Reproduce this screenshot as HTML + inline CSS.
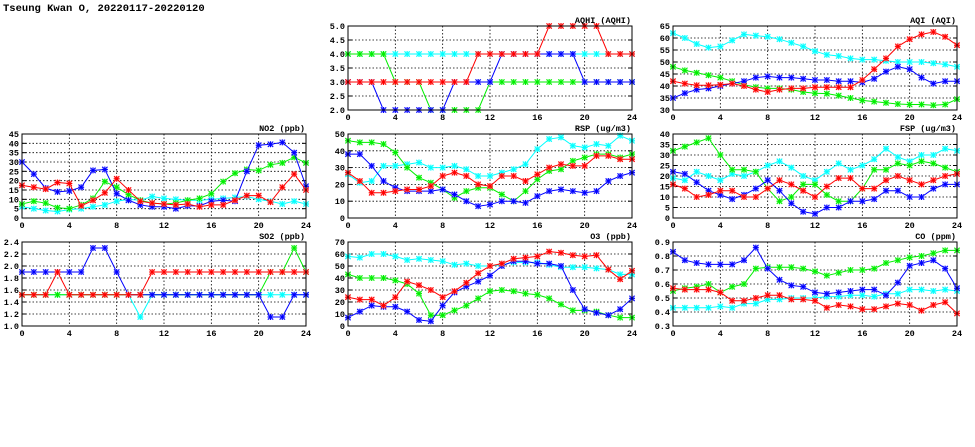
<!DOCTYPE html>
<html><head><meta charset="utf-8"><style>
html,body{margin:0;padding:0;background:#fff;width:975px;height:447px;overflow:hidden}
svg{display:block}
text{font-family:"Liberation Mono",monospace;font-weight:bold;fill:#000}
</style></head><body>
<svg id="chart" width="975" height="447" viewBox="0 0 975 447" xmlns="http://www.w3.org/2000/svg">
<text x="3" y="11" font-size="10.5" font-family="Liberation Serif">Tseung Kwan O, 20220117-20220120</text>
</svg>
<script>
const xTicks = [0,4,8,12,16,20,24];
const seriesColors = ['#00ffff','#00ee00','#0000ff','#ff0000'];
const aqhiCyan=[4,4,4,4,4,4,4,4,4,4,4,4,4,4,4,4,4,4,4,4,4,4,4,4,4];
const aqhiGreen=[4,4,4,4,3,3,3,2,2,2,2,2,3,3,3,3,3,3,3,3,3,3,3,3,3];
const aqhiBlue=[3,3,3,2,2,2,2,2,2,3,3,3,3,4,4,4,4,4,4,4,3,3,3,3,3];
const aqhiRed=[3,3,3,3,3,3,3,3,3,3,3,4,4,4,4,4,4,5,5,5,5,5,4,4,4];
const aqiCyan=[62,60,57.5,56,56.5,59,61.5,61,60.5,59.5,58,56.5,54.5,53,52.5,51.5,51,51,50.5,50,50,50,49.5,49,48];
const aqiGreen=[48,46.5,45.5,44.5,43.5,42,40.5,39.5,39,39,38.5,37.5,37,36.8,36,35,34,33.5,33,32.5,32.3,32.3,32,32.3,34.5];
const aqiBlue=[35,37,38.5,39,40,41,42,43.5,44,43.5,43.5,43,42.5,42.5,42,42,41.5,43,46,48,47,43.5,41,42,42];
const aqiRed=[42,41,40.3,40.3,40.5,41,40,38.5,37.5,38.5,39,39,39.5,39.5,39.5,39.5,42.5,47,51.5,56.5,59.5,61.5,62.5,60.5,57];
const no2Cyan=[6,5,4,3.5,4.5,5,6,7,9,10,9.5,11.5,10.5,10,9.5,9.5,10,10.5,11,11.5,10,9,7.5,9,7.5];
const no2Green=[7.5,9,8,5.5,5,7,10.5,19.5,16.5,12.5,9.5,8,7.5,8,9.5,10.5,13,19.5,24,26,25.5,28.5,29.5,32.5,29.5];
const no2Blue=[30,23.5,16,14,14.5,16.5,25.5,26,13,9.5,7,6,6,5,6.5,6.5,9,9.5,9,25,39,39.5,40.5,35,17];
const no2Red=[17.5,16.5,15.5,19,18.5,6.5,9.5,13.5,21,15,9,8,7.5,7,7.5,6,7,7,9.5,12,12,8.5,16.5,23.5,15];
const rspCyan=[26,21,22,31,31,32,33,30,30,31,29,25,25,27,29,32,41,47,48,43,42,44,43,49,46];
const rspGreen=[46,45,45,44,39,30,24,21,17,12,16,18,18,14,10,16,23,28,29,34,36,38,38,36,38];
const rspBlue=[38,38,31,22,18,16,16,16,17,14,10,7,8,10,10,9,13,16,17,16,15,16,22,25,27];
const rspRed=[27,22,15,15,16,17,17,19,25,27,25,20,19,25,25,22,26,30,32,31,31,37,37,35,35];
const fspCyan=[19,18,22,20,18,21,20,22,25,27,24,20,18,22,26,23,25,28,33,29,27,30,30,33,32];
const fspGreen=[32,34,36,38,30,23,23,22,14,8,10,16,16,11,8,8,14,23,23,26,25,27,26,24,22];
const fspBlue=[22,21,17,13,11,9,11,14,18,13,7,3,2,5,5,8,8,9,13,13,10,10,14,16,16];
const fspRed=[16,14,10,11,13,13,10,10,14,18,16,13,10,15,19,19,14,14,18,20,18,16,18,20,21];
const so2Cyan=[1.52,1.52,1.52,1.52,1.52,1.52,1.52,1.52,1.52,1.52,1.15,1.52,1.52,1.52,1.52,1.52,1.52,1.52,1.52,1.52,1.52,1.52,1.52,1.52,1.52];
const so2Green=[1.52,1.52,1.52,1.52,1.52,1.52,1.52,1.52,1.52,1.52,1.52,1.52,1.52,1.52,1.52,1.52,1.52,1.52,1.52,1.52,1.52,1.9,1.9,2.3,1.9];
const so2Blue=[1.9,1.9,1.9,1.9,1.9,1.9,2.3,2.3,1.9,1.52,1.52,1.52,1.52,1.52,1.52,1.52,1.52,1.52,1.52,1.52,1.52,1.15,1.15,1.52,1.52];
const so2Red=[1.52,1.52,1.52,1.9,1.52,1.52,1.52,1.52,1.52,1.52,1.52,1.9,1.9,1.9,1.9,1.9,1.9,1.9,1.9,1.9,1.9,1.9,1.9,1.9,1.9];
const o3Cyan=[58,57,60,60,58,55,56,55,54,51,52,50,50,51,53,53,53,51,49,49,49,48,47,43,43];
const o3Green=[43,40,40,40,38,35,27,9,9,13,17,23,29,30,29,27,26,23,18,13,13,12,9,7,7];
const o3Blue=[7,12,17,16,16,12,5,4,17,28,33,37,42,50,54,54,52,52,50,30,14,11,9,14,23];
const o3Red=[24,22,22,17,24,37,34,30,24,29,36,44,50,52,56,57,58,62,61,59,58,59,47,39,46];
const coCyan=[.43,.43,.43,.43,.44,.43,.46,.46,.49,.49,.50,.50,.50,.51,.51,.52,.52,.51,.53,.53,.56,.56,.55,.56,.55];
const coGreen=[.55,.57,.58,.60,.54,.58,.60,.71,.72,.72,.72,.71,.69,.66,.68,.70,.70,.71,.75,.77,.79,.80,.82,.84,.84];
const coBlue=[.83,.77,.75,.74,.74,.74,.77,.86,.71,.63,.59,.58,.54,.53,.54,.55,.56,.56,.52,.61,.73,.75,.77,.71,.57];
const coRed=[.57,.56,.56,.56,.54,.48,.48,.50,.52,.52,.49,.49,.48,.43,.45,.44,.42,.42,.44,.46,.45,.41,.45,.47,.39];
const aqhiTicks=['2.0','2.5','3.0','3.5','4.0','4.5','5.0'];
const aqiTicks=['30','35','40','45','50','55','60','65'];
const no2Ticks=['0','5','10','15','20','25','30','35','40','45'];
const rspTicks=['0','10','20','30','40','50'];
const fspTicks=['0','5','10','15','20','25','30','35','40'];
const so2Ticks=['1.0','1.2','1.4','1.6','1.8','2.0','2.2','2.4'];
const o3Ticks=['0','10','20','30','40','50','60','70'];
const coTicks=['0.3','0.4','0.5','0.6','0.7','0.8','0.9'];

const panels=[
 {name:'aqhi',title:'AQHI (AQHI)',L:348,T:26,ticks:aqhiTicks,series:[aqhiCyan,aqhiGreen,aqhiBlue,aqhiRed]},
 {name:'aqi',title:'AQI (AQI)',L:673,T:26,ticks:aqiTicks,series:[aqiCyan,aqiGreen,aqiBlue,aqiRed]},
 {name:'no2',title:'NO2 (ppb)',L:22,T:134,ticks:no2Ticks,series:[no2Cyan,no2Green,no2Blue,no2Red]},
 {name:'rsp',title:'RSP (ug/m3)',L:348,T:134,ticks:rspTicks,series:[rspCyan,rspGreen,rspBlue,rspRed]},
 {name:'fsp',title:'FSP (ug/m3)',L:673,T:134,ticks:fspTicks,series:[fspCyan,fspGreen,fspBlue,fspRed]},
 {name:'so2',title:'SO2 (ppb)',L:22,T:242,ticks:so2Ticks,series:[so2Cyan,so2Green,so2Blue,so2Red]},
 {name:'o3',title:'O3 (ppb)',L:348,T:242,ticks:o3Ticks,series:[o3Cyan,o3Green,o3Blue,o3Red]},
 {name:'co',title:'CO (ppm)',L:673,T:242,ticks:coTicks,series:[coCyan,coGreen,coBlue,coRed]}
];
const W=284,H=84,NS='http://www.w3.org/2000/svg';
const svg=document.getElementById('chart');
function mk(tag,attrs,parent){const e=document.createElementNS(NS,tag);for(const k in attrs)e.setAttribute(k,attrs[k]);parent.appendChild(e);return e;}
const lightColors=['#aaffff','#aaffaa','#aaaaff','#ffaaaa'];
panels.forEach(p=>{
 const g=mk('g',{},svg);
 
 
 const ymin=parseFloat(p.ticks[0]),ymax=parseFloat(p.ticks[p.ticks.length-1]);
 const xs=v=>p.L+v/24*W;
 const ys=v=>p.T+H-(v-ymin)/(ymax-ymin)*H;
 p.ticks.forEach((t,i)=>{
  const y=ys(parseFloat(t));
  if(i>0&&i<p.ticks.length-1){const gl=mk('line',{x1:p.L,x2:p.L+W,y1:y,y2:y,stroke:'#000','stroke-width':0.8,'stroke-dasharray':'1.5,2'},g);
   }
  mk('line',{x1:p.L,x2:p.L+4,y1:y,y2:y,stroke:'#000'},g);
  mk('line',{x1:p.L+W-4,x2:p.L+W,y1:y,y2:y,stroke:'#000'},g);
  const tx=mk('text',{x:p.L-3,y:y+3,'font-size':8.5,'text-anchor':'end'},g);tx.textContent=t;
  
 });
 xTicks.forEach((t,i)=>{
  const x=xs(t);
  if(i>0&&i<xTicks.length-1){const gl=mk('line',{x1:x,x2:x,y1:p.T,y2:p.T+H,stroke:'#000','stroke-width':0.8,'stroke-dasharray':'1.5,2'},g);
   }
  const tx=mk('text',{x:x,y:p.T+H+10,'font-size':8.5,'text-anchor':'middle'},g);tx.textContent=t;
  
 });
 p.series.forEach((s,si)=>{
  const c=seriesColors[si];
  const pl=mk('polyline',{points:s.map((v,i)=>xs(i)+','+ys(v)).join(' '),fill:'none',stroke:c,'stroke-width':1},g);
  
  
  s.forEach((v,i)=>{
   const x=xs(i),y=ys(v);
   const m=mk('g',{},g);
   
   
   mk('rect',{x:x-2.7,y:y-2.7,width:5.4,height:5.4,fill:lightColors[si],opacity:0.8},m);
   mk('path',{d:`M${x-2.7},${y-2.7}L${x+2.7},${y+2.7}M${x-2.7},${y+2.7}L${x+2.7},${y-2.7}M${x-3},${y}L${x+3},${y}M${x},${y-3}L${x},${y+3}`,stroke:c,'stroke-width':1},m);
  });
 });
 const fr=mk('rect',{x:p.L,y:p.T,width:W,height:H,fill:'none',stroke:'#000','stroke-width':1},g);
 
 const tt=mk('text',{x:p.L+W-1,y:p.T-3,'font-size':8.5,'text-anchor':'end'},g);tt.textContent=p.title;
 
});
</script>
</body></html>
